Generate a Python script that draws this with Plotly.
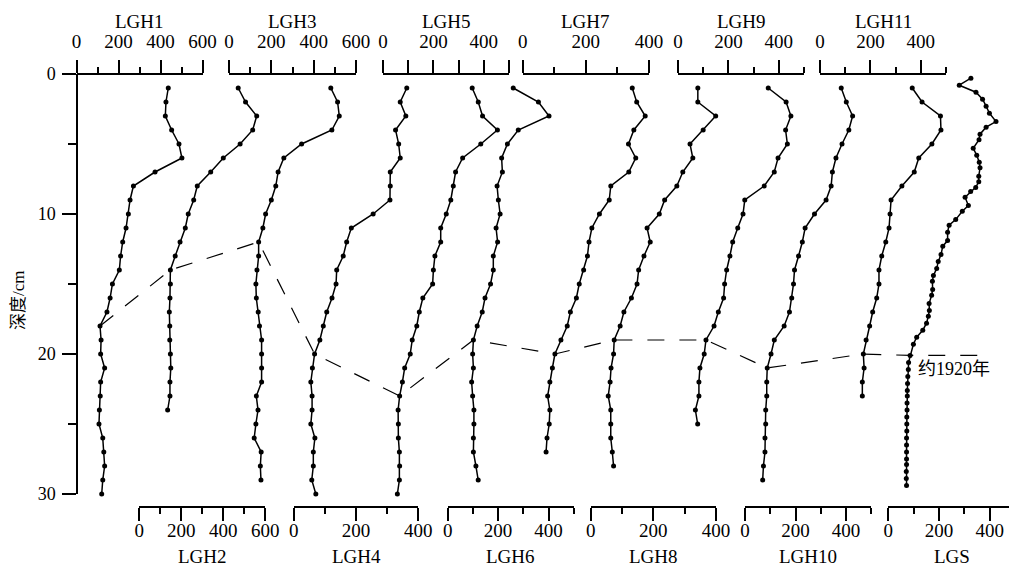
import plotly.graph_objects as go

# page body has an 8px margin, so the figure is sized to fit the window
OFF = 8
W, H = 1017 - OFF, 568 - OFF
FONT = "Liberation Serif, Times New Roman, Noto Sans CJK SC, serif"

# ---------------- data ----------------
names = ["LGH1", "LGH2", "LGH3", "LGH4", "LGH5", "LGH6",
         "LGH7", "LGH8", "LGH9", "LGH10", "LGH11", "LGS"]

lgh1 = [437, 426, 423, 453, 488, 502, 374, 271, 255, 247, 236, 220, 210, 204, 171,
        160, 145, 112, 117, 115, 134, 115, 113, 109, 107, 125, 130, 134, 125, 120]
lgh2 = [471, 506, 559, 540, 480, 400, 340, 276, 259, 233, 219, 194, 171, 148, 148,
        146, 143, 145, 145, 148, 150, 146, 146, 135]
lgh3 = [481, 513, 521, 486, 343, 259, 232, 221, 200, 173, 160, 140, 140, 132, 127,
        129, 138, 144, 154, 154, 154, 154, 129, 137, 127, 119, 152, 148, 151]
lgh4 = [363, 342, 360, 327, 337, 342, 310, 310, 309, 255, 185, 170, 159, 138, 136,
        123, 106, 95, 84, 67, 60, 55, 59, 59, 55, 68, 63, 63, 58, 71]
lgh5 = [354, 378, 395, 454, 388, 316, 288, 279, 269, 251, 229, 229, 206, 200, 197,
        158, 144, 134, 116, 108, 86, 77, 66, 60, 61, 61, 65, 66, 65, 57]
lgh6 = [260, 360, 402, 280, 237, 214, 217, 196, 201, 208, 192, 198, 181, 181, 170,
        148, 137, 117, 102, 99, 102, 95, 99, 104, 104, 102, 102, 112, 121]
lgh7 = [347, 361, 388, 352, 335, 358, 336, 279, 274, 243, 219, 210, 205, 193, 179,
        170, 151, 141, 121, 102, 94, 86, 79, 86, 84, 77, 74]
lgh8 = [342, 342, 399, 359, 317, 326, 294, 275, 236, 219, 180, 190, 170, 153, 148,
        130, 106, 94, 75, 73, 65, 62, 56, 64, 64, 64, 69, 73]
lgh9 = [358, 429, 448, 427, 434, 397, 382, 342, 265, 258, 237, 217, 206, 193, 185,
        181, 160, 143, 111, 104, 87, 83, 83, 69, 78]
lgh10 = [381, 401, 426, 411, 384, 360, 346, 341, 321, 275, 238, 227, 212, 196, 192,
         185, 176, 155, 116, 103, 88, 86, 86, 82, 82, 79, 79, 73, 70]
lgh11 = [366, 405, 478, 480, 444, 392, 374, 325, 282, 278, 274, 261, 245, 234, 234,
         225, 209, 197, 183, 172, 175, 168, 168]

lgs_depth = [0.3, 0.8, 1.3, 1.8, 2.3, 2.8, 3.4, 3.8, 4.3, 4.7, 5.3, 5.8, 6.3, 6.7,
             7.3, 7.7, 8.1, 8.4, 8.8, 9.4, 9.8, 10.4, 10.8, 11.3, 11.9, 12.3, 12.9,
             13.4, 13.9, 14.4, 14.8, 15.4, 15.8, 16.4, 16.9, 17.3, 17.8, 18.3, 18.8,
             19.3, 20.1, 20.6, 21.1, 21.6, 22.1, 22.6, 23.0, 23.5, 24.0, 24.5, 25.0,
             25.5, 26.0, 26.5, 27.0, 27.5, 27.9, 28.4, 28.9, 29.4]
lgs = [326, 280, 346, 372, 386, 399, 425, 386, 362, 358, 335, 349, 359, 362,
       357, 357, 345, 325, 303, 316, 292, 266, 240, 234, 234, 215, 208,
       197, 191, 178, 174, 175, 171, 161, 162, 158, 151, 136, 112,
       99, 86, 80, 79, 77, 76, 75, 75, 74, 74, 73, 73,
       73, 72, 72, 72, 72, 72, 71, 71, 72]

values = [lgh1, lgh2, lgh3, lgh4, lgh5, lgh6, lgh7, lgh8, lgh9, lgh10, lgh11, lgs]
depths = [list(range(1, len(v) + 1)) for v in values[:-1]] + [lgs_depth]

axis_max = [600, 600, 600, 400, 500, 500, 400, 400, 500, 500, 500, 500]

# ~1920 horizon: depth of the marked sample in each core
horizon_depth = [18, 14, 12, 20, 23, 19, 20, 19, 19, 21, 20, 20.1]
horizon_tail_value = 382   # end of the line, on the LGS scale
horizon_label = "约1920年"

# ---------------- layout geometry (window pixels) ----------------
x_px = [(76.5, 202.5), (139.3, 265.3), (229, 356), (293.7, 418.3), (383, 509),
        (447.7, 573.7), (522.7, 649), (590.7, 716), (678, 804), (745, 871.3),
        (820, 946), (888.3, 1015)]
Y_TOP, Y_BOT = 74, 494
BOTTOM_AX = 507


def fx(px):
    return (px - OFF) / W


def fy(py):
    return 1 - (py - OFF) / H


fig = go.Figure()
layout = dict(
    width=W, height=H,
    margin=dict(l=0, r=0, t=0, b=0, pad=0, autoexpand=False),
    paper_bgcolor="white", plot_bgcolor="rgba(0,0,0,0)",
    showlegend=False,
    font=dict(family=FONT, size=19, color="black"),
)

layout["yaxis"] = dict(
    domain=[fy(Y_BOT), fy(Y_TOP)], range=[30, 0],
    anchor="free", position=fx(77), automargin=False,
    showline=True, linecolor="black", linewidth=1.5,
    ticks="outside", ticklen=14, tickwidth=1.5, tickcolor="black",
    tickmode="linear", tick0=0, dtick=10, ticklabelstandoff=3,
    minor=dict(ticks="outside", ticklen=8, tickwidth=1.5, tickcolor="black",
               tick0=0, dtick=5),
    showgrid=False, zeroline=False, tickfont=dict(size=18), fixedrange=True,
)

annotations = []
for i, name in enumerate(names):
    key = "xaxis" if i == 0 else f"xaxis{i + 1}"
    ref = "x" if i == 0 else f"x{i + 1}"
    x0, x1 = x_px[i]
    mx = axis_max[i]
    top = (i % 2 == 0)
    ax = dict(
        domain=[fx(x0), fx(x1)], range=[0, mx],
        anchor="free", position=fy(Y_TOP) if top else fy(BOTTOM_AX),
        side="top" if top else "bottom", automargin=False,
        showline=True, linecolor="black", linewidth=1.5,
        ticks="outside", ticklen=13, tickwidth=1.5, tickcolor="black",
        ticklabelstandoff=5 if top else -7,
        showgrid=False, zeroline=False, tickfont=dict(size=19), fixedrange=True,
    )
    if name == "LGH5":
        tv = list(range(0, mx + 1, 100))
        ax.update(tickmode="array", tickvals=tv,
                  ticktext=[str(t) if t % 200 == 0 else "" for t in tv])
    else:
        ax.update(tickmode="linear", tick0=0, dtick=200,
                  minor=dict(ticks="outside", ticklen=6, tickwidth=1.5,
                             tickcolor="black", tick0=0, dtick=100))
    layout[key] = ax

    fig.add_trace(go.Scatter(
        x=values[i], y=depths[i], xaxis=ref, yaxis="y",
        mode="lines+markers",
        line=dict(color="black", width=1.5),
        marker=dict(size=5, color="black"),
        cliponaxis=False, hoverinfo="skip",
    ))

    annotations.append(dict(
        text=name, xref="paper", yref="paper",
        x=fx((x0 + x1) / 2), y=fy(21) if top else fy(556),
        xanchor="center", yanchor="middle", showarrow=False,
        font=dict(size=19, family=FONT),
    ))

# overlay axis in paper units for the horizon line crossing all cores
n = len(names)
layout[f"xaxis{n + 1}"] = dict(domain=[0, 1], range=[0, 1], visible=False,
                               anchor="free", position=0, fixedrange=True)


def to_paper(i, v):
    x0, x1 = x_px[i]
    return fx(x0 + v / axis_max[i] * (x1 - x0))


hx, hy = [], []
for i, d in enumerate(horizon_depth):
    j = min(range(len(depths[i])), key=lambda k: abs(depths[i][k] - d))
    hx.append(to_paper(i, values[i][j]))
    hy.append(depths[i][j])
hx.append(to_paper(n - 1, horizon_tail_value))
hy.append(hy[-1])

fig.add_trace(go.Scatter(
    x=hx, y=hy, xaxis=f"x{n + 1}", yaxis="y", mode="lines",
    line=dict(color="black", width=1.2, dash="17px,15px"),
    cliponaxis=False, hoverinfo="skip",
))

annotations.append(dict(
    text=horizon_label, xref=f"x{n + 1}", yref="y",
    x=fx(916), y=21.1, xanchor="left", yanchor="middle", showarrow=False,
    font=dict(size=18, family=FONT),
))
annotations.append(dict(
    text="深度/cm", xref="paper", yref="paper",
    x=fx(18), y=fy(300), textangle=-90,
    xanchor="center", yanchor="middle", showarrow=False,
    font=dict(size=17, family=FONT),
))

layout["annotations"] = annotations
fig.update_layout(**layout)
fig.write_html("out.html")
